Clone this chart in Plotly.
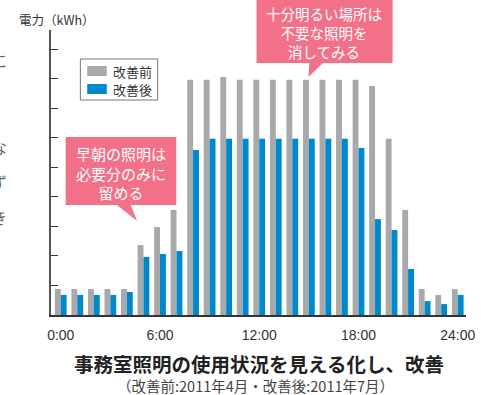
import plotly.graph_objects as go

hours = list(range(25))
before = [0.88, 0.88, 0.88, 0.88, 0.88, 2.37, 2.98, 3.56, 7.97, 7.97, 8.07, 7.97, 7.97,
          7.97, 7.97, 7.97, 7.97, 7.97, 7.97, 7.76, 5.97, 3.56, 0.88, 0.68, 0.88]
after = [0.68, 0.68, 0.68, 0.68, 0.78, 1.97, 2.07, 2.17, 5.59, 5.97, 5.97, 5.97, 5.97,
         5.97, 5.97, 5.97, 5.97, 5.97, 5.66, 3.25, 2.88, 1.56, 0.47, 0.37, 0.68]
tick_vals = [0, 6, 12, 18, 24]
tick_text = ["0:00", "6:00", "12:00", "18:00", "24:00"]
series_names = ["改善前", "改善後"]
title = "事務室照明の使用状況を見える化し、改善"
subtitle = "（改善前:2011年4月・改善後:2011年7月）"
ylabel = "電力（kWh）"
callout1 = "十分明るい場所は<br>不要な照明を<br>消してみる"
callout2 = "早朝の照明は<br>必要分のみに<br>留める"
side_chars = ["に", "。", "な", "ず", "き", "」"]

GRAY = "#a8a9ad"
BLUE = "#0088cf"
PINK = "#f27188"

W, H = 481, 395
L, R, T, B = 51, 475, 30, 315


def px(x):
    return (x - L) / (R - L)


def py(y):
    return (B - y) / (B - T)


CJK = "Noto Sans CJK JP"

fig = go.Figure()
fig.add_bar(x=hours, y=before, name=series_names[0], marker_color=GRAY, marker_line_width=0)
fig.add_bar(x=hours, y=after, name=series_names[1], marker_color=BLUE, marker_line_width=0)

shapes = []
ann = []

# legend (manual)
shapes.append(dict(type="rect", xref="paper", yref="paper", x0=px(81), x1=px(160), y0=py(59), y1=py(100),
                   line=dict(color="#777777", width=1), fillcolor="white", layer="above"))
shapes.append(dict(type="rect", xref="paper", yref="paper", x0=px(88), x1=px(108), y0=py(66), y1=py(76),
                   line=dict(width=0), fillcolor=GRAY, layer="above"))
shapes.append(dict(type="rect", xref="paper", yref="paper", x0=px(88), x1=px(108), y0=py(84), y1=py(94),
                   line=dict(width=0), fillcolor=BLUE, layer="above"))
for name, yc in zip(series_names, [71, 89]):
    ann.append(dict(text=name, xref="paper", yref="paper", x=px(112), y=py(yc), xanchor="left", yanchor="middle",
                    showarrow=False, font=dict(family=CJK, size=13, color="#333333")))

# callout boxes
shapes.append(dict(type="rect", xref="paper", yref="paper", x0=px(261), x1=px(400), y0=py(-5), y1=py(63),
                   line=dict(width=0), fillcolor=PINK, layer="above"))
shapes.append(dict(type="path", xref="paper", yref="paper", layer="above", line=dict(width=0), fillcolor=PINK,
                   path=f"M{px(315)},{py(62)} L{px(330)},{py(62)} L{px(314)},{py(77)} Z"))
shapes.append(dict(type="rect", xref="paper", yref="paper", x0=px(66), x1=px(179), y0=py(137), y1=py(205),
                   line=dict(width=0), fillcolor=PINK, layer="above"))
shapes.append(dict(type="path", xref="paper", yref="paper", layer="above", line=dict(width=0), fillcolor=PINK,
                   path=f"M{px(117)},{py(204)} L{px(132)},{py(204)} L{px(139)},{py(221)} Z"))
ann.append(dict(text=callout1, xref="paper", yref="paper", x=px(330), y=py(32), xanchor="center", yanchor="middle",
                showarrow=False, align="center", font=dict(family=CJK, size=14.5, color="white")))
ann.append(dict(text=callout2, xref="paper", yref="paper", x=px(123), y=py(173), xanchor="center", yanchor="middle",
                showarrow=False, align="center", font=dict(family=CJK, size=15, color="white")))

# y label, titles
ann.append(dict(text=ylabel, xref="paper", yref="paper", x=px(16), y=py(20), xanchor="left", yanchor="middle",
                showarrow=False, font=dict(family=CJK, size=12.5, color="#333333")))
ann.append(dict(text=f"<b>{title}</b>", xref="paper", yref="paper", x=px(263), y=py(363), xanchor="center",
                yanchor="middle", showarrow=False, font=dict(family=CJK, size=19.5, color="#222222")))
ann.append(dict(text=subtitle, xref="paper", yref="paper", x=px(260), y=py(386), xanchor="center",
                yanchor="middle", showarrow=False, font=dict(family=CJK, size=14.5, color="#444444")))

# clipped text fragments at the left edge
for ch, yc in zip(side_chars, [60, 104, 147, 182, 217, 258]):
    ann.append(dict(text=ch, xref="paper", yref="paper", x=px(8), y=py(yc), xanchor="right", yanchor="middle",
                    showarrow=False, font=dict(family=CJK, size=16, color="#666666")))

fig.update_layout(
    width=W, height=H,
    margin=dict(l=L, r=W - R, t=T, b=H - B, pad=0),
    paper_bgcolor="white", plot_bgcolor="white",
    barmode="group", bargap=0.29, bargroupgap=0,
    showlegend=False,
    shapes=shapes, annotations=ann,
    font=dict(family="Liberation Sans, Arial", color="#333333"),
)
fig.update_xaxes(range=[-0.59, 24.5], tickvals=tick_vals, ticktext=tick_text, showgrid=False, zeroline=False,
                 showline=True, linecolor="#333333", linewidth=2, ticks="outside", ticklen=6,
                 tickcolor="rgba(0,0,0,0)", ticklabeloverflow="allow",
                 tickfont=dict(family="Liberation Sans, Arial", size=14, color="#333333"))
fig.update_yaxes(range=[0, 9.66], tickvals=list(range(1, 10)), showticklabels=False, showgrid=False,
                 zeroline=False, showline=True, linecolor="#555555", linewidth=1.5, ticks="inside", ticklen=7,
                 tickcolor="#333333", tickwidth=1)

fig.write_html("out.html")
